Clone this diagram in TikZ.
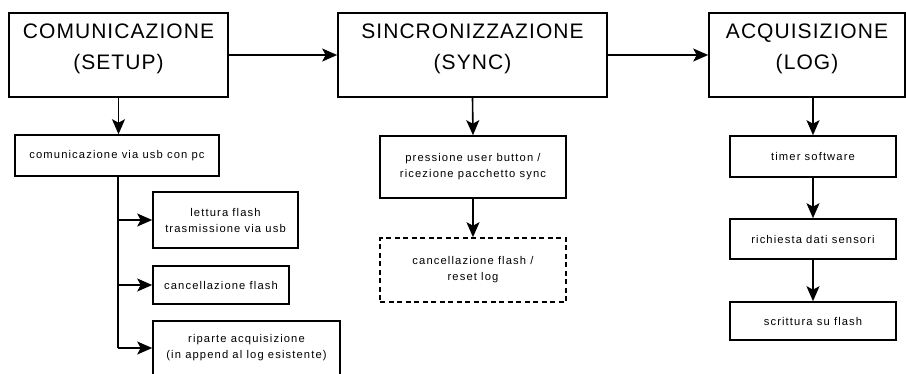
\documentclass[tikz,border=0pt]{standalone}
\usepackage{fontspec}
\setmainfont{Liberation Sans}
\newfontfamily\titlefont[LetterSpace=5]{Liberation Sans}
\newfontfamily\smallfont[LetterSpace=10]{Liberation Sans}
\usetikzlibrary{arrows.meta}
\begin{document}
\begin{tikzpicture}[x=1pt,y=-1pt,
  box/.style={draw,line width=1.6pt,inner sep=0pt,align=center},
  bigbox/.style={box},
  bigtext/.style={inner sep=0pt,align=center,font=\titlefont\fontsize{21}{31}\selectfont},
  small/.style={box,font=\smallfont\fontsize{11.2}{16}\selectfont},
  dashbox/.style={small,dash pattern=on 5pt off 3.5pt},
  arr/.style={line width=1.6pt,-{Stealth[length=15pt,width=13pt,inset=3.5pt]}}]
\useasboundingbox (0,0) rectangle (906,373);
% main boxes
\node[bigbox,minimum width=219pt,minimum height=84pt] (B1) at (118.5,55) {};
\node[bigbox,minimum width=269pt,minimum height=84pt] (B2) at (472.5,55) {};
\node[bigbox,minimum width=196pt,minimum height=84pt] (B3) at (807,55) {};
\node[bigtext] (B1t) at ([yshift=6pt]B1.center) {COMUNICAZIONE\\(SETUP)};
\node[bigtext] (B2t) at ([yshift=6pt]B2.center) {SINCRONIZZAZIONE\\(SYNC)};
\node[bigtext] (B3t) at ([yshift=6pt]B3.center) {ACQUISIZIONE\\(LOG)};
% column 1
\node[small,minimum width=204pt,minimum height=41pt] (c1) at (117,155.5) {comunicazione via usb con pc};
\node[small,minimum width=145pt,minimum height=56pt] (l) at (225.5,220) {lettura flash\\trasmissione via usb};
\node[small,minimum width=136pt,minimum height=38pt] (cf) at (221,285) {cancellazione flash};
\node[small,minimum width=187pt,minimum height=54pt] (r) at (246.5,348) {riparte acquisizione\\(in append al log esistente)};
% column 2
\node[small,minimum width=186pt,minimum height=62pt] (p) at (473,167) {pressione user button /\\ricezione pacchetto sync};
\node[dashbox,minimum width=186pt,minimum height=64pt] (d) at (473,270) {cancellazione flash /\\reset log};
% column 3
\node[small,minimum width=166pt,minimum height=41pt] (t) at (813,156.5) {timer software};
\node[small,minimum width=166pt,minimum height=40pt] (rd) at (813,239) {richiesta dati sensori};
\node[small,minimum width=166pt,minimum height=38pt] (sf) at (813,321) {scrittura su flash};
% connectors
\draw[arr] (B1) -- (B2);
\draw[arr] (B2) -- (B3);
\draw[arr] (B1.south) -- (B1.south |- c1.north);
\coordinate (tr) at (118,0);
\draw[line width=1.6pt] (tr |- c1.south) -- (tr |- r.west);
\draw[arr] (tr |- l.west) -- (l.west);
\draw[arr] (tr |- cf.west) -- (cf.west);
\draw[arr] (tr |- r.west) -- (r.west);
\draw[arr] (B2.south) -- (p.north);
\draw[arr] (p.south) -- (d.north);
\draw[arr] (B3.south -| t.north) -- (t.north);
\draw[arr] (t.south) -- (rd.north);
\draw[arr] (rd.south) -- (sf.north);
\end{tikzpicture}
\end{document}
